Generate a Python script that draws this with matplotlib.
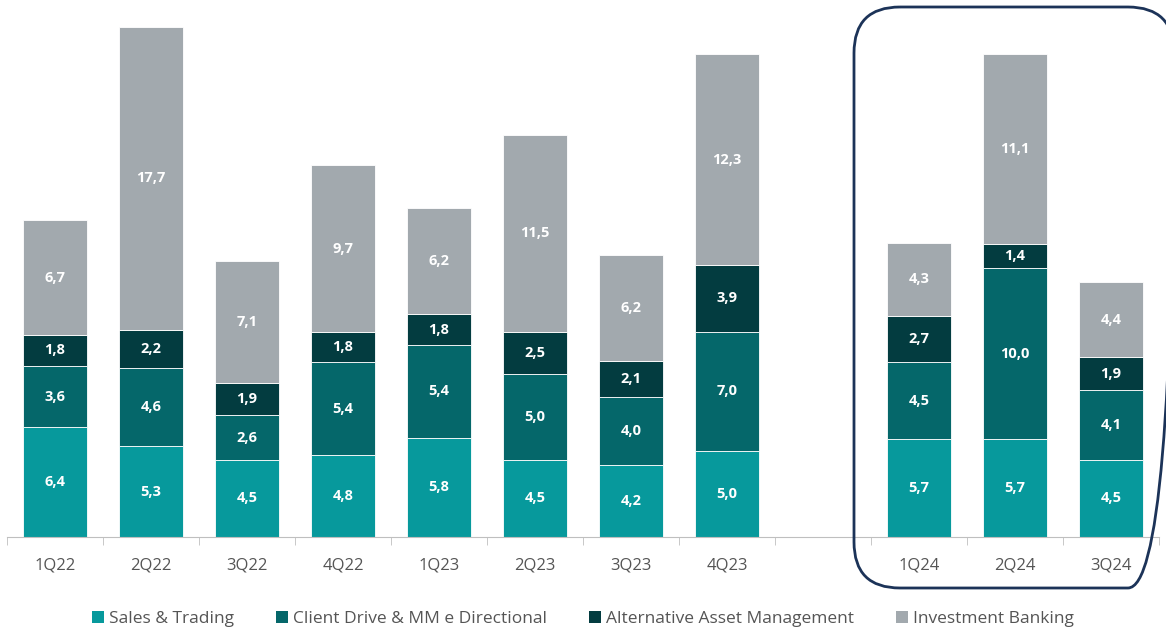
import matplotlib
matplotlib.use("Agg")
import matplotlib.pyplot as plt
from matplotlib.patches import FancyBboxPatch, Patch

plt.rcParams["font.family"] = ["Open Sans", "DejaVu Sans"]

# quarters; empty string is the spacer slot before 2024
quarters = ["1Q22", "2Q22", "3Q22", "4Q22", "1Q23", "2Q23", "3Q23", "4Q23",
            "", "1Q24", "2Q24", "3Q24"]
sales_trading = [6.4, 5.3, 4.5, 4.8, 5.8, 4.5, 4.2, 5.0, 0, 5.7, 5.7, 4.5]
client_drive = [3.6, 4.6, 2.6, 5.4, 5.4, 5.0, 4.0, 7.0, 0, 4.5, 10.0, 4.1]
alt_asset_mgmt = [1.8, 2.2, 1.9, 1.8, 1.8, 2.5, 2.1, 3.9, 0, 2.7, 1.4, 1.9]
invest_banking = [6.7, 17.7, 7.1, 9.7, 6.2, 11.5, 6.2, 12.3, 0, 4.3, 11.1, 4.4]

series = [
    ("Sales & Trading", sales_trading, "#07999c"),
    ("Client Drive & MM e Directional", client_drive, "#05676a"),
    ("Alternative Asset Management", alt_asset_mgmt, "#033c40"),
    ("Investment Banking", invest_banking, "#a2a9ae"),
]

W, H = 1166, 629
fig = plt.figure(figsize=(W / 100, H / 100), dpi=100)
ax = fig.add_axes([7 / W, (H - 537) / H, 1152 / W, 537 / H])

x = list(range(len(quarters)))
bottom = [0.0] * len(quarters)
for name, vals, color in series:
    ax.bar(x, vals, width=0.667, bottom=bottom, color=color,
           edgecolor="white", linewidth=0.6, label=name)
    for i, v in enumerate(vals):
        if v > 0:
            ax.text(i, bottom[i] + v / 2, f"{v:.1f}".replace(".", ","),
                    ha="center", va="center", color="white",
                    fontsize=10.5, fontweight="bold")
    bottom = [b + v for b, v in zip(bottom, vals)]

ax.set_xlim(-0.5, len(quarters) - 0.5)
ax.set_ylim(0, 537 / 17.12)
for s in ["top", "right", "left"]:
    ax.spines[s].set_visible(False)
ax.spines["bottom"].set_color("#bfbfbf")
ax.set_yticks([])
ax.set_xticks(x)
ax.set_xticklabels(quarters, fontsize=12, color="#555555")
ax.tick_params(axis="x", length=0, pad=15)
# boundary ticks between categories
ax.set_xticks([i - 0.5 for i in range(len(quarters) + 1)], minor=True)
ax.tick_params(axis="x", which="minor", length=6, color="#bfbfbf")

# overlay in pixel units for the rounded frame around 2024 quarters
ov = fig.add_axes([0, 0, 1, 1], zorder=5)
ov.set_xlim(0, W)
ov.set_ylim(H, 0)
ov.axis("off")
ov.patch.set_alpha(0)
box = FancyBboxPatch((854, 7), 320, 581,
                     boxstyle="round,pad=0,rounding_size=46",
                     fill=False, edgecolor="#1c3358", linewidth=2,
                     clip_on=False)
ov.add_patch(box)

handles = [Patch(facecolor=c, label=n) for n, _, c in series]
fig.legend(handles=handles, loc="center", bbox_to_anchor=(0.5, (H - 619) / H),
           ncol=4, frameon=False, fontsize=12.5, handlelength=0.7,
           handleheight=0.7, handletextpad=0.3, columnspacing=2.4,
           labelcolor="#555555")

fig.savefig("out.png", dpi=100)
